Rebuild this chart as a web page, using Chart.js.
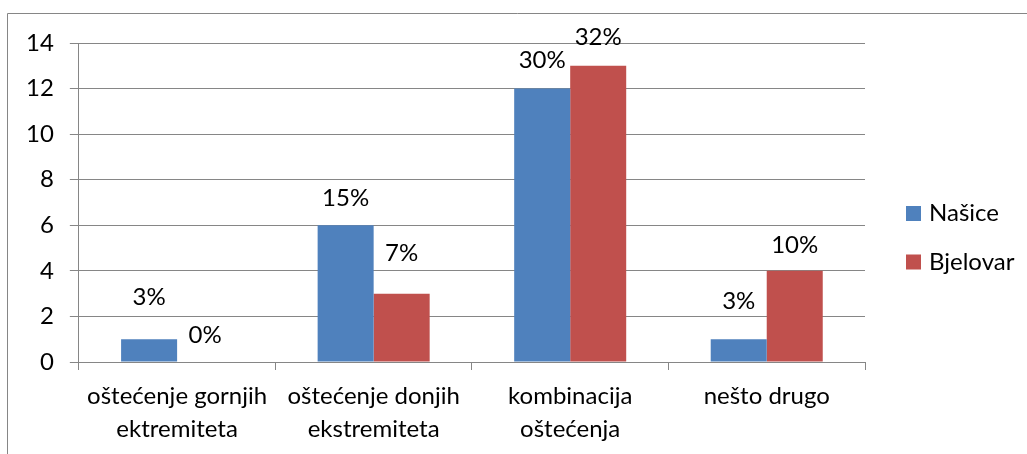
<!DOCTYPE html>
<html>
<head>
<meta charset="utf-8">
<script src="https://cdn.jsdelivr.net/npm/chart.js@4/dist/chart.umd.min.js"></script>
<style>
  html, body { margin: 0; padding: 0; background: #fff; }
</style>
</head>
<body>
<canvas id="chart" width="1027" height="454"></canvas>
<script>
var categories = [
    ['oštećenje gornjih', 'ektremiteta'],
    ['oštećenje donjih', 'ekstremiteta'],
    ['kombinacija', 'oštećenja'],
    ['nešto drugo']
];
var nasice = [1, 6, 12, 1];
var bjelovar = [0, 3, 13, 4];
var nasicePct = ['3%', '15%', '30%', '3%'];
var bjelovarPct = ['0%', '7%', '32%', '10%'];
var yMax = 14;
var yStep = 2;

var FONT = 'Lato, "Liberation Sans", sans-serif';
var GREY = '#868686';

// how far above each bar top its label sits
var labelLift = [[42, 27, 28, 38], [27, 40, 29, 26]];

var frame = {
    id: 'frame',
    beforeDraw: function(chart) {
        var ctx = chart.ctx;
        ctx.save();
        ctx.strokeStyle = GREY;
        ctx.lineWidth = 1;
        ctx.beginPath();
        ctx.moveTo(7.5, 454);
        ctx.lineTo(7.5, 13.5);
        ctx.lineTo(1027, 13.5);
        ctx.stroke();
        ctx.restore();
    }
};

var pctLabels = {
    id: 'pctLabels',
    afterDatasetsDraw: function(chart) {
        var ctx = chart.ctx;
        ctx.save();
        ctx.font = '24px ' + FONT;
        ctx.fillStyle = '#000';
        ctx.textAlign = 'center';
        ctx.textBaseline = 'middle';
        chart.data.datasets.forEach(function(ds, i) {
            chart.getDatasetMeta(i).data.forEach(function(bar, j) {
                ctx.fillText(ds.pct[j], bar.x, bar.y - labelLift[i][j]);
            });
        });
        ctx.restore();
    }
};

// legend on the right, Excel style
var sideLegend = {
    id: 'sideLegend',
    afterDraw: function(chart) {
        var ctx = chart.ctx;
        var x = chart.chartArea.right + 41;
        var y = 213.5;
        ctx.save();
        ctx.font = '24px ' + FONT;
        ctx.textAlign = 'left';
        ctx.textBaseline = 'middle';
        chart.data.datasets.forEach(function(ds) {
            ctx.fillStyle = ds.backgroundColor;
            ctx.fillRect(x, y - 7.5, 15, 15);
            ctx.fillStyle = '#000';
            ctx.fillText(ds.label, x + 23, y);
            y += 48.5;
        });
        ctx.restore();
    }
};

new Chart('chart', {
    type: 'bar',
    data: {
        labels: categories,
        datasets: [{
            label: 'Našice',
            data: nasice,
            pct: nasicePct,
            backgroundColor: '#4F81BD'
        }, {
            label: 'Bjelovar',
            data: bjelovar,
            pct: bjelovarPct,
            backgroundColor: '#C0504D'
        }]
    },
    options: {
        responsive: false,
        animation: false,
        events: [],
        categoryPercentage: 0.57,
        barPercentage: 1,
        layout: {
            padding: { left: 10, top: 43, right: 162, bottom: -2 }
        },
        plugins: {
            tooltip: { enabled: false },
            legend: { display: false }
        },
        scales: {
            x: {
                grid: {
                    drawOnChartArea: false,
                    tickLength: 8,
                    color: GREY
                },
                border: { color: GREY },
                ticks: {
                    padding: 10,
                    color: '#000',
                    font: { family: FONT, size: 24, lineHeight: 1.375 }
                }
            },
            y: {
                min: 0,
                max: yMax,
                grid: {
                    tickLength: 9,
                    color: GREY
                },
                border: { color: GREY },
                ticks: {
                    stepSize: yStep,
                    padding: 16,
                    color: '#000',
                    font: { family: FONT, size: 24 }
                }
            }
        }
    },
    plugins: [frame, pctLabels, sideLegend]
});
</script>
</body>
</html>
